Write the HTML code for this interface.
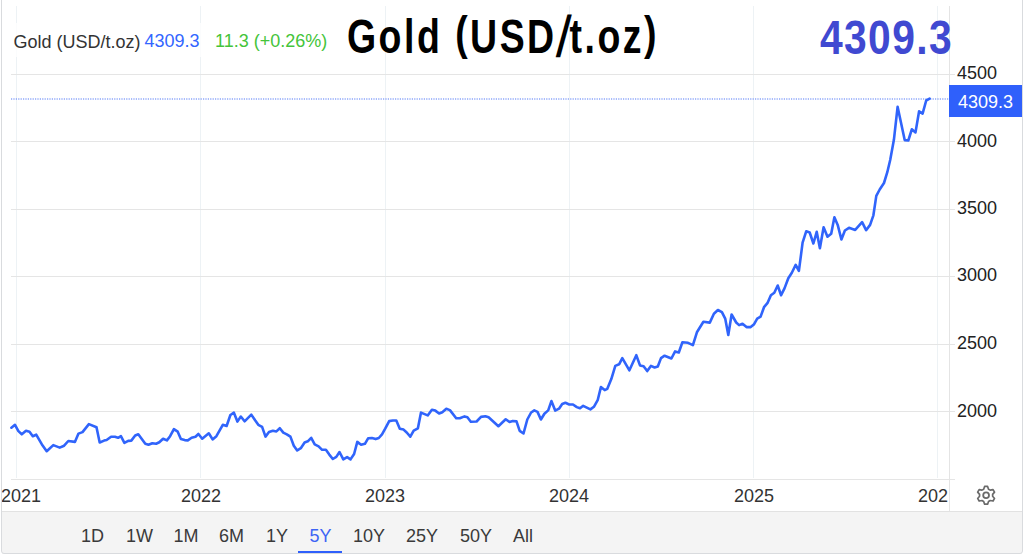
<!DOCTYPE html>
<html><head><meta charset="utf-8">
<style>
html,body{margin:0;padding:0;background:#fff;width:1024px;height:557px;overflow:hidden;position:relative;font-family:"Liberation Sans",sans-serif;}
.abs{position:absolute;white-space:nowrap;}
.tp{display:inline-block;transform:translateY(-3px) scaleY(0.955);}
.tsl{display:inline-block;transform:translateX(2px) scaleY(1.19) skewX(-13deg);}
#frame{position:absolute;left:1px;top:-10px;width:1020px;height:562px;border:1px solid #d9dbde;border-radius:3px;}
#bar{position:absolute;left:2px;top:511px;width:1020px;height:42px;background:#f4f4f4;border-top:1px solid #e2e2e2;}
.btn{position:absolute;top:526px;font-size:18px;line-height:20px;color:#3a3a3a;}
.ylab{position:absolute;left:957px;font-size:18px;line-height:20px;color:#222;}
.xlab{position:absolute;top:486px;font-size:18px;line-height:20px;color:#333;}
</style></head><body>
<svg class="abs" style="left:0;top:0" width="1024" height="557">
  <g stroke="#edf2f5" stroke-width="1">
    <line x1="16.5" y1="6" x2="16.5" y2="478"/>
    <line x1="200.5" y1="6" x2="200.5" y2="478"/>
    <line x1="385.5" y1="6" x2="385.5" y2="478"/>
    <line x1="569.5" y1="6" x2="569.5" y2="478"/>
    <line x1="753.5" y1="6" x2="753.5" y2="478"/>
    <line x1="937.5" y1="6" x2="937.5" y2="478"/>
  </g>
  <g stroke="#e5e5e5" stroke-width="1">
    <line x1="11" y1="74.5" x2="955" y2="74.5"/>
    <line x1="11" y1="141.5" x2="955" y2="141.5"/>
    <line x1="11" y1="209.5" x2="955" y2="209.5"/>
    <line x1="11" y1="276.5" x2="955" y2="276.5"/>
    <line x1="11" y1="344.5" x2="955" y2="344.5"/>
    <line x1="11" y1="411.5" x2="955" y2="411.5"/>
    <line x1="11" y1="479.5" x2="955" y2="479.5"/>
  </g>
  <line x1="949.5" y1="6" x2="949.5" y2="511" stroke="#e4e4e4" stroke-width="1"/>
  <line x1="11" y1="99" x2="949" y2="99" stroke="#4a72f7" stroke-opacity="0.95" stroke-width="1" stroke-dasharray="1.2,1.2"/>
  <path d="M11.4,427.7 L15.0,424.8 L18.4,431.1 L21.8,434.3 L26.0,430.8 L29.5,431.7 L32.8,436.2 L36.2,434.7 L41.9,444.4 L46.7,451.2 L53.3,445.1 L59.7,447.6 L64.1,445.7 L68.3,441.0 L74.9,441.9 L78.5,433.6 L82.5,432.1 L88.9,424.1 L96.5,427.3 L99.7,442.5 L104.1,440.6 L106.6,440.0 L111.1,436.8 L114.9,436.8 L118.1,437.8 L120.9,436.2 L124.4,442.9 L128.2,440.9 L131.3,440.6 L135.2,435.5 L138.3,434.3 L145.3,443.8 L148.5,444.7 L152.3,443.2 L156.1,443.8 L159.3,442.3 L163.1,438.7 L166.9,440.4 L170.1,436.2 L173.9,429.2 L177.7,431.7 L180.9,439.1 L184.7,440.1 L187.8,440.4 L191.6,437.8 L195.5,436.8 L198.4,434.0 L202.2,438.7 L208.8,433.3 L212.6,439.4 L216.4,436.2 L222.8,424.8 L226.6,426.0 L230.4,415.0 L233.9,412.7 L237.4,421.6 L240.8,416.5 L244.6,421.3 L251.3,414.6 L255.1,420.3 L258.3,424.8 L262.1,426.9 L265.5,436.6 L269.0,432.0 L272.9,430.7 L276.4,431.4 L279.8,428.2 L283.3,432.6 L286.8,434.3 L290.4,436.6 L293.8,445.7 L297.2,450.5 L300.8,448.2 L304.6,442.5 L307.8,441.3 L311.2,437.8 L314.7,444.4 L318.6,446.3 L322.1,449.8 L325.9,449.8 L329.3,454.6 L332.8,459.0 L336.3,456.9 L339.5,452.0 L343.3,459.4 L347.1,457.1 L350.5,459.4 L354.1,454.0 L357.3,441.9 L361.1,444.7 L364.9,443.8 L368.1,438.3 L371.9,438.1 L375.7,439.1 L378.8,438.0 L382.0,434.4 L385.2,428.7 L389.2,421.1 L392.8,420.5 L396.3,420.5 L399.8,428.7 L403.6,429.6 L406.7,432.5 L410.3,436.7 L413.7,430.6 L417.9,428.3 L421.0,412.6 L427.7,415.4 L431.9,409.7 L435.3,410.6 L439.1,413.5 L442.3,412.2 L446.3,408.8 L449.9,410.1 L456.2,418.2 L459.8,418.2 L464.5,416.4 L467.4,417.3 L470.8,421.7 L476.6,421.5 L481.0,416.9 L485.4,416.3 L488.6,417.3 L498.4,426.2 L505.7,419.3 L509.5,422.0 L512.7,421.0 L516.5,421.4 L519.7,430.9 L523.5,433.5 L527.3,419.5 L531.1,412.5 L534.3,410.4 L537.5,411.9 L540.9,419.5 L544.4,413.8 L548.2,410.4 L551.4,401.1 L555.2,410.6 L559.0,408.7 L562.2,404.0 L565.4,402.8 L569.2,404.5 L573.0,404.5 L576.8,407.1 L580.0,408.3 L583.2,405.8 L590.4,409.4 L593.9,406.8 L597.8,399.8 L600.9,387.1 L604.7,390.1 L607.3,388.8 L611.3,379.1 L615.3,365.9 L619.1,364.3 L622.3,358.1 L629.4,370.3 L636.3,355.2 L640.0,365.4 L643.6,366.2 L647.2,371.1 L650.9,365.9 L654.6,367.5 L657.8,366.5 L661.0,358.1 L664.6,355.7 L671.4,358.5 L675.1,351.4 L678.8,352.5 L682.4,342.3 L688.0,342.8 L692.9,345.2 L696.9,332.3 L703.4,321.8 L709.8,322.6 L713.9,313.7 L717.9,310.0 L721.9,312.1 L725.2,318.6 L728.3,335.0 L731.6,314.5 L736.2,322.5 L739.1,325.1 L742.5,323.7 L746.5,327.1 L750.7,327.1 L754.1,324.2 L757.2,318.6 L760.6,316.6 L764.0,307.2 L767.4,303.2 L770.9,295.2 L774.3,292.7 L777.7,285.5 L781.1,295.2 L784.5,288.4 L788.3,278.2 L791.7,273.0 L795.7,264.8 L798.9,270.9 L802.6,242.7 L806.2,231.3 L809.7,232.5 L813.4,243.5 L816.7,231.8 L819.9,248.3 L823.6,227.3 L827.5,236.7 L831.2,233.8 L834.4,217.3 L837.7,224.9 L841.4,239.4 L844.9,230.5 L849.0,227.8 L855.2,229.9 L862.1,222.1 L866.1,230.2 L870.1,224.9 L873.4,215.3 L876.3,195.9 L879.7,189.5 L884.0,183.0 L887.3,172.2 L890.2,160.0 L893.9,139.8 L897.6,106.8 L904.7,140.1 L908.3,140.5 L911.8,129.3 L915.5,132.4 L919.1,111.3 L922.6,113.6 L926.2,100.5 L929.6,98.7" fill="none" stroke="#3064fb" stroke-width="2.6" stroke-linejoin="round" stroke-linecap="round"/>
  <path d="M988.54,489.17 L987.59,486.42 L984.61,486.42 L983.66,489.17 L982.01,490.12 L979.16,489.57 L977.67,492.16 L979.57,494.35 L979.57,496.25 L977.67,498.44 L979.16,501.03 L982.01,500.48 L983.66,501.43 L984.61,504.18 L987.59,504.18 L988.54,501.43 L990.19,500.48 L993.04,501.03 L994.53,498.44 L992.63,496.25 L992.63,494.35 L994.53,492.16 L993.04,489.57 L990.19,490.12Z" fill="none" stroke="#6a6a6a" stroke-width="1.7" stroke-linejoin="round"/>
  <circle cx="986.1" cy="495.3" r="2.9" fill="none" stroke="#6a6a6a" stroke-width="1.8"/>
</svg>
<div class="abs" style="left:11px;top:23px;width:330px;height:34px;background:rgba(255,255,255,0.75)"></div>
<div class="abs" style="left:13.5px;top:31.5px;font-size:18px;line-height:20px;color:#333">Gold (USD/t.oz)</div>
<div class="abs" style="left:144.5px;top:31px;font-size:18px;line-height:20px;color:#3366ff">4309.3</div>
<div class="abs" style="left:215px;top:31px;font-size:18px;line-height:20px;color:#44c43a">11.3 (+0.26%)</div>
<div class="abs" id="title" style="left:347px;top:9px;font-size:48px;line-height:56px;font-weight:bold;color:#000;letter-spacing:3.2px;transform-origin:0 0;transform:scaleX(0.78)">Gold <span class="tp">(</span>USD<span class="tsl">/</span>t.oz<span class="tp">)</span></div>
<div class="abs" id="big" style="left:820px;top:10px;font-size:48px;line-height:56px;font-weight:bold;color:#4049d1;letter-spacing:1.6px;transform-origin:0 0;transform:scaleX(0.85)">4309.3</div>
<div class="ylab" style="top:62.5px">4500</div>
<div class="abs" style="left:949px;top:85px;width:73px;height:32px;background:#2f60fb"></div>
<div class="ylab" style="top:92px;left:958px;color:#fff">4309.3</div>
<div class="ylab" style="top:131px">4000</div>
<div class="ylab" style="top:198px">3500</div>
<div class="ylab" style="top:265px">3000</div>
<div class="ylab" style="top:333px">2500</div>
<div class="ylab" style="top:400.5px">2000</div>
<div class="xlab" style="left:1px">2021</div>
<div class="xlab" style="left:181px">2022</div>
<div class="xlab" style="left:365px">2023</div>
<div class="xlab" style="left:549px">2024</div>
<div class="xlab" style="left:734px">2025</div>
<div class="xlab" style="left:918px;width:30px;overflow:hidden">2026</div>
<div id="bar"></div>
<div id="frame"></div>
<div class="btn" style="left:81px">1D</div>
<div class="btn" style="left:126px">1W</div>
<div class="btn" style="left:173.5px">1M</div>
<div class="btn" style="left:219px">6M</div>
<div class="btn" style="left:266px">1Y</div>
<div class="btn" style="left:309.5px;color:#3d64f5">5Y</div>
<div class="abs" style="left:298px;top:551px;width:44px;height:2px;background:#2f60fb"></div>
<div class="btn" style="left:353px">10Y</div>
<div class="btn" style="left:406px">25Y</div>
<div class="btn" style="left:460px">50Y</div>
<div class="btn" style="left:513px">All</div>
</body></html>
